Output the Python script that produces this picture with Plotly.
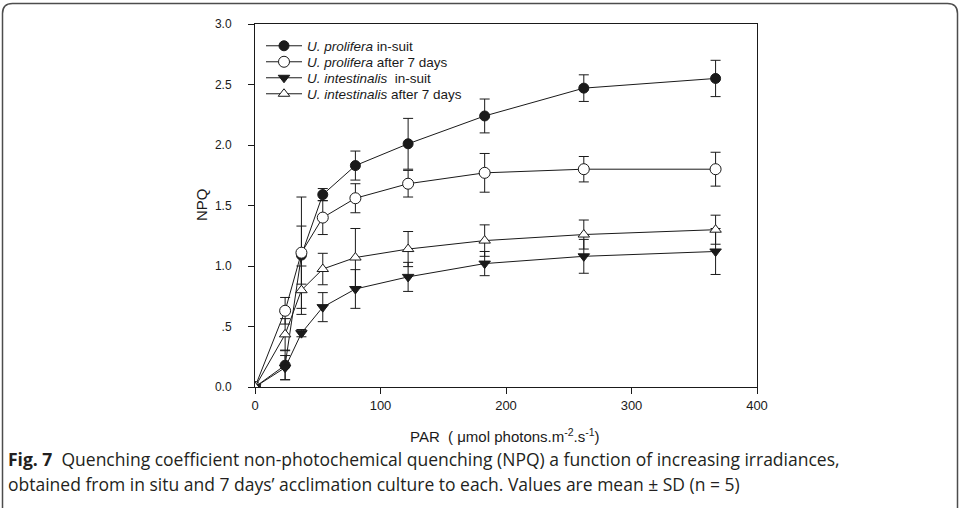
import plotly.graph_objects as go

# ---- data ----
par = [0, 24, 37, 54, 80, 122, 183, 262, 367]

prolifera_insitu = [0, 0.18, 1.09, 1.59, 1.83, 2.01, 2.24, 2.47, 2.55]
prolifera_insitu_sd = [0, 0.12, 0.24, 0.05, 0.12, 0.21, 0.14, 0.11, 0.15]

prolifera_7d = [0, 0.63, 1.11, 1.40, 1.56, 1.68, 1.77, 1.80, 1.80]
prolifera_7d_sd = [0, 0.11, 0.46, 0.14, 0.12, 0.11, 0.16, 0.105, 0.14]

intestinalis_insitu = [0, 0.16, 0.445, 0.66, 0.81, 0.91, 1.02, 1.08, 1.12]
intestinalis_insitu_sd = [0, 0.10, 0.03, 0.12, 0.16, 0.12, 0.10, 0.14, 0.19]

intestinalis_7d = [0, 0.435, 0.80, 0.975, 1.07, 1.14, 1.21, 1.26, 1.30]
intestinalis_7d_sd = [0, 0.13, 0.20, 0.13, 0.24, 0.145, 0.13, 0.12, 0.12]

names = [
    "<i>U. prolifera</i> in-suit",
    "<i>U. prolifera</i> after 7 days",
    "<i>U. intestinalis</i>  in-suit",
    "<i>U. intestinalis</i> after 7 days",
]

y_ticks = [0, 0.5, 1.0, 1.5, 2.0, 2.5, 3.0]
y_ticktext = ["0.0", ".5", "1.0", "1.5", "2.0", "2.5", "3.0"]
x_ticks = [0, 100, 200, 300, 400]

caption1 = "<b>Fig. 7</b>  Quenching coefficient non-photochemical quenching (NPQ) a function of increasing irradiances,"
caption2 = "obtained from in situ and 7 days\u2019 acclimation culture to each. Values are mean \u00b1 SD (n = 5)"

# ---- layout geometry ----
W, H = 959, 508
L, R, T, B = 255, 202, 24, 121
PW, PH = W - L - R, H - T - B


def px(x):
    return (x - L) / PW


def py(y):
    return (H - B - y) / PH


INK = "#1a1a1a"
series = [
    (prolifera_insitu, prolifera_insitu_sd, dict(symbol="circle", color=INK, size=10, line=dict(color=INK, width=1))),
    (prolifera_7d, prolifera_7d_sd, dict(symbol="circle", color="white", size=11, line=dict(color=INK, width=1))),
    (intestinalis_insitu, intestinalis_insitu_sd, dict(symbol="triangle-down", color=INK, size=10, line=dict(color=INK, width=1))),
    (intestinalis_7d, intestinalis_7d_sd, dict(symbol="triangle-up", color="white", size=10, line=dict(color=INK, width=1))),
]
legend_ids = ["legend", "legend2", "legend3", "legend4"]
legend_rows = [46, 62, 78, 94]

leg_font = dict(family="Liberation Sans, Arial, sans-serif", size=13.5, color=INK)

fig = go.Figure()
for (vals, sd, mk), nm, lid in zip(series, names, legend_ids):
    fig.add_trace(go.Scatter(
        x=par, y=vals, name=nm, mode="lines+markers",
        line=dict(color=INK, width=1),
        marker=mk, legend=lid,
        error_y=dict(type="data", array=sd, visible=True, color=INK, thickness=1, width=5),
    ))

xtick_font = dict(family="Liberation Sans, Arial, sans-serif", size=13, color=INK)
ytick_font = dict(family="Liberation Sans, Arial, sans-serif", size=12, color=INK)

layout_legends = {}
for lid, row in zip(legend_ids, legend_rows):
    layout_legends[lid] = dict(
        x=px(261), y=py(row), xanchor="left", yanchor="middle",
        font=leg_font, bgcolor="rgba(0,0,0,0)", itemwidth=36,
    )

fig.update_layout(
    width=W, height=H,
    margin=dict(l=L, r=R, t=T, b=B),
    paper_bgcolor="white", plot_bgcolor="white",
    showlegend=True,
    xaxis=dict(
        range=[0, 400], tickvals=x_ticks, showgrid=False, zeroline=False,
        showline=True, linecolor=INK, linewidth=1, mirror=True,
        ticks="outside", ticklen=6, tickcolor=INK, tickfont=xtick_font,
    ),
    yaxis=dict(
        range=[0, 3.0], tickvals=y_ticks, ticktext=y_ticktext, showgrid=False, zeroline=False,
        showline=True, linecolor=INK, linewidth=1, mirror=True,
        ticks="outside", ticklen=6, tickcolor=INK, tickfont=ytick_font,
        ticklabelstandoff=14,
    ),
    font=dict(family="Liberation Sans, Arial, sans-serif"),
    **layout_legends,
)

title_font = dict(family="Liberation Sans, Arial, sans-serif", size=15, color=INK)
cap_font = dict(family="Open Sans, Noto Sans, sans-serif", size=17.5, color="#231f20")
fig.add_annotation(x=px(505), y=py(436), xref="paper", yref="paper", showarrow=False,
                   text="PAR  ( \u03bcmol photons.m<sup>-2</sup>.s<sup>-1</sup>)", font=title_font,
                   xanchor="center", yanchor="middle")
fig.add_annotation(x=px(201), y=py(205), xref="paper", yref="paper", showarrow=False,
                   text="NPQ", textangle=-90, font=title_font, xanchor="center", yanchor="middle")
fig.add_annotation(x=px(6), y=py(459), xref="paper", yref="paper", showarrow=False,
                   text=caption1, font=cap_font, xanchor="left", yanchor="middle", align="left")
fig.add_annotation(x=px(6), y=py(484), xref="paper", yref="paper", showarrow=False,
                   text=caption2, font=cap_font, xanchor="left", yanchor="middle", align="left")

# rounded outer frame of the figure panel
r = 10
x0, x1, y0, y1 = 2.5, 957.5, 3.5, 508
path = (f"M {px(x0)},{py(y1)} L {px(x0)},{py(y0 + r)} Q {px(x0)},{py(y0)} {px(x0 + r)},{py(y0)} "
        f"L {px(x1 - r)},{py(y0)} Q {px(x1)},{py(y0)} {px(x1)},{py(y0 + r)} L {px(x1)},{py(y1)}")
fig.add_shape(type="path", path=path, xref="paper", yref="paper",
              line=dict(color="#4d4d4d", width=1.5), layer="above")

fig.write_html("out.html")
